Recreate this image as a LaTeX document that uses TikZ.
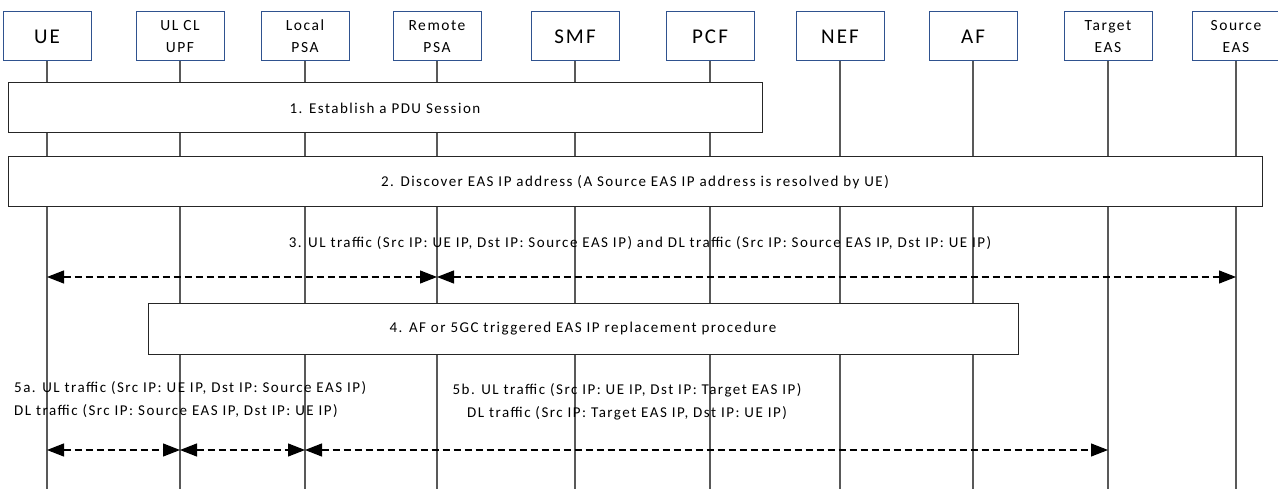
\documentclass[tikz,border=0pt]{standalone}
\usepackage{fontspec}
\setmainfont{Carlito}[LetterSpace=10]
\usetikzlibrary{
  arrows.meta,
  positioning
}
\definecolor{entityblue}{RGB}{47,82,143}
\definecolor{lifegray}{RGB}{89,89,89}
\tikzset{
  entity/.style={
    draw=entityblue,
    line width=1pt,
    fill=white,
    minimum width=88pt,
    minimum height=49pt,
    inner sep=0pt,
    align=center,
    font=\fontsize{15.5}{22}\selectfont
  },
  bigentity/.style={
    entity,
    font=\fontsize{21}{24}\selectfont
  },
  lifeline/.style={
    draw=lifegray,
    line width=1.1pt
  },
  procbox/.style={
    draw=black!85,
    line width=1pt,
    fill=white,
    inner sep=0pt,
    font=\fontsize{15}{17}\selectfont
  },
  msgtext/.style={
    inner sep=0pt,
    font=\fontsize{15}{23}\selectfont
  },
  msg/.style={
    line width=1.1pt,
    dash pattern=on 7pt off 4pt,
    {Triangle[length=17pt,width=13pt]}-{Triangle[length=17pt,width=13pt]}
  }
}
\begin{document}
\begin{tikzpicture}[x=1pt,y=-1pt]
  \useasboundingbox (0,0) rectangle (1278,489);
  % entities
  \node[bigentity] (ue) at (47,36.5) {UE};
  \node[entity] (ulcl) at (180,36.5) {UL CL\\UPF};
  \node[entity] (lpsa) at (305,36.5) {Local\\PSA};
  \node[entity] (rpsa) at (437,36.5) {Remote\\PSA};
  \node[bigentity] (smf) at (575,36.5) {SMF};
  \node[bigentity] (pcf) at (710,36.5) {PCF};
  \node[bigentity] (nef) at (840,36.5) {NEF};
  \node[bigentity] (af) at (973,36.5) {AF};
  \node[entity] (teas) at (1108,36.5) {Target\\EAS};
  \node[entity] (seas) at (1236,36.5) {Source\\EAS};
  \coordinate (bottom) at (0,489);
  \foreach \e in {ue,ulcl,lpsa,rpsa,smf,pcf,nef,af,teas,seas}
    \draw[lifeline] (\e.south) -- (\e |- bottom);
  % steps
  \node[procbox, minimum width=754pt, minimum height=50pt] (establish) at (385,108) {1. Establish a PDU Session};
  \node[procbox, minimum width=1254pt, minimum height=50pt] (discover) at (635,182) {2. Discover EAS IP address (A Source EAS IP address is resolved by UE)};
  \node[msgtext] (traffic) at (640,243) {3. UL traffic (Src IP: UE IP, Dst IP: Source EAS IP) and DL traffic (Src IP: Source EAS IP, Dst IP: UE IP)};
  \coordinate (m3) at (0,277);
  \draw[msg] (ue |- m3) -- (rpsa |- m3);
  \draw[msg] (rpsa |- m3) -- (seas |- m3);
  \node[procbox, minimum width=870pt, minimum height=50pt] (replace) at (583,329) {4. AF or 5GC triggered EAS IP replacement procedure};
  \node[msgtext, anchor=west, align=left] (oldpath) at (14,400) {5a. UL traffic (Src IP: UE IP, Dst IP: Source EAS IP)\\DL traffic (Src IP: Source EAS IP, Dst IP: UE IP)};
  \node[msgtext, align=center] (newpath) at (627,402) {5b. UL traffic (Src IP: UE IP, Dst IP: Target EAS IP)\\DL traffic (Src IP: Target EAS IP, Dst IP: UE IP)};
  \coordinate (m5) at (0,450);
  \draw[msg] (ue |- m5) -- (ulcl |- m5);
  \draw[msg] (ulcl |- m5) -- (lpsa |- m5);
  \draw[msg] (lpsa |- m5) -- (teas |- m5);
\end{tikzpicture}
\end{document}
